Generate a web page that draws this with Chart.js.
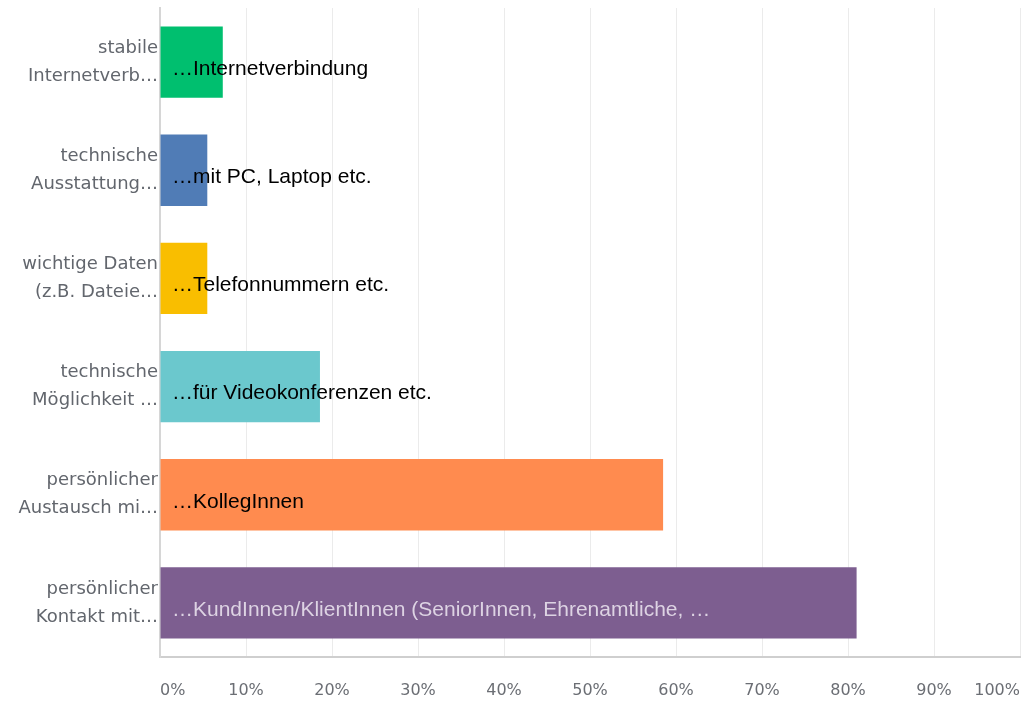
<!DOCTYPE html>
<html>
<head>
<meta charset="utf-8">
<script src="https://cdn.jsdelivr.net/npm/chart.js@4"></script>
<style>
  html, body { margin: 0; padding: 0; background: #fff; }
  #wrap { width: 1025px; height: 701px; }
</style>
</head>
<body>
<div id="wrap"><canvas id="chart"></canvas></div>
<script>
// ── data ──
const categories = [
  ['stabile', 'Internetverb…'],
  ['technische', 'Ausstattung…'],
  ['wichtige Daten', '(z.B. Dateie…'],
  ['technische', 'Möglichkeit …'],
  ['persönlicher', 'Austausch mi…'],
  ['persönlicher', 'Kontakt mit…']
];
const barTexts = [
  '…Internetverbindung',
  '…mit PC, Laptop etc.',
  '…Telefonnummern etc.',
  '…für Videokonferenzen etc.',
  '…KollegInnen',
  '…KundInnen/KlientInnen (SeniorInnen, Ehrenamtliche, …'
];
const values = [7.3, 5.5, 5.5, 18.6, 58.5, 81.0];
const barColors = ['#00bf6f', '#507cb6', '#f9be00', '#6bc8cd', '#ff8b4f', '#7d5e90'];
const textColors = ['#000', '#000', '#000', '#000', '#000', '#ddd3e3'];

// ── text inside bars ──
const barTextPlugin = {
  id: 'barText',
  afterDatasetsDraw(chart) {
    const ctx = chart.ctx;
    const meta = chart.getDatasetMeta(0);
    ctx.save();
    ctx.font = '21px "Liberation Sans", Arial, sans-serif';
    ctx.textBaseline = 'middle';
    ctx.textAlign = 'left';
    meta.data.forEach((bar, i) => {
      ctx.fillStyle = textColors[i];
      ctx.fillText(barTexts[i], chart.chartArea.left + 12, bar.y + 7);
    });
    ctx.restore();
  }
};

// no automatic edge padding from tick labels
const noPad = s => { s.paddingTop = 0; s.paddingBottom = 0; s.paddingLeft = 0; s.paddingRight = 0; };

new Chart(document.getElementById('chart').getContext('2d'), {
  type: 'bar',
  data: {
    labels: categories,
    datasets: [{
      data: values,
      backgroundColor: barColors,
      borderWidth: 0,
      barPercentage: 0.66,
      categoryPercentage: 1
    }]
  },
  options: {
    indexAxis: 'y',
    responsive: true,
    maintainAspectRatio: false,
    animation: false,
    layout: { padding: { top: 8, right: 5, left: 0, bottom: 0 } },
    plugins: { legend: { display: false }, tooltip: { enabled: false } },
    scales: {
      x: {
        min: 0,
        max: 100,
        ticks: {
          stepSize: 10,
          align: 'inner',
          padding: 24,
          color: '#6b6e74',
          font: { family: '"DejaVu Sans", sans-serif', size: 16 },
          callback: v => v + '%'
        },
        grid: { color: '#ebebeb', drawTicks: false },
        border: { color: '#cfcfcf', width: 2 },
        afterFit: s => { noPad(s); s.height = 44; }
      },
      y: {
        ticks: {
          padding: 2,
          color: '#62666d',
          font: { family: '"DejaVu Sans", sans-serif', size: 18, lineHeight: 1.55 }
        },
        grid: { display: false, drawTicks: false },
        border: { color: '#d6d6d6', width: 2 },
        afterFit: s => { noPad(s); s.width = 160; }
      }
    }
  },
  plugins: [barTextPlugin]
});
</script>
</body>
</html>
